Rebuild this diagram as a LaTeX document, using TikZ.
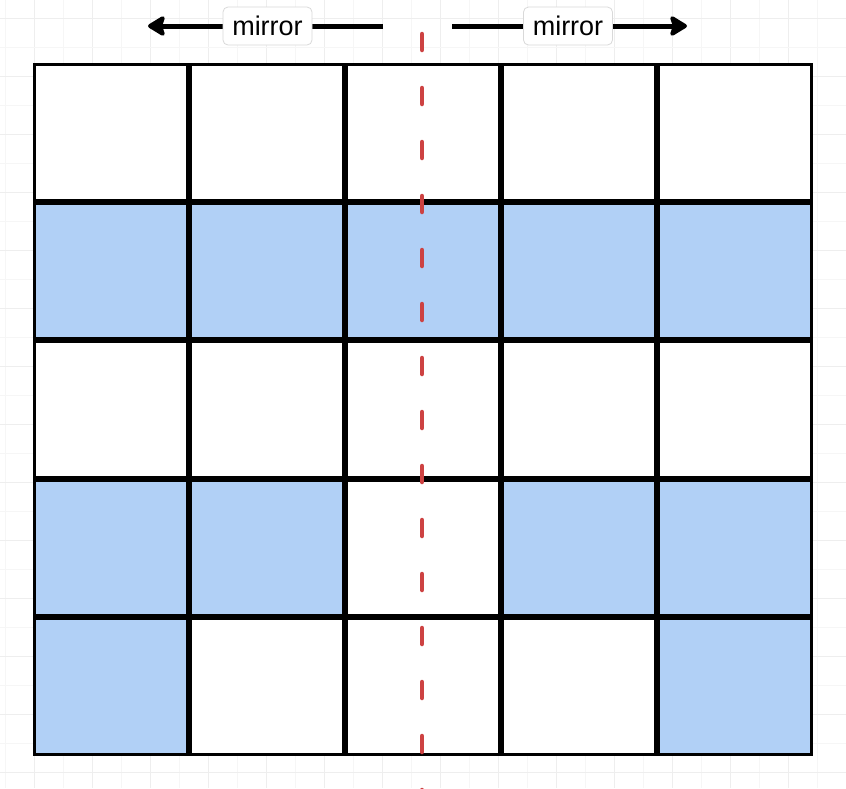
\documentclass[tikz,border=0pt]{standalone}
\usepackage{fontspec}
\setmainfont{Liberation Sans}
\usetikzlibrary{arrows.meta}
\definecolor{cellblue}{RGB}{177,208,246}
\definecolor{axisred}{RGB}{205,66,66}
\definecolor{bggrid}{RGB}{238,238,238}
\definecolor{bggridminor}{RGB}{246,246,246}
\begin{document}
\begin{tikzpicture}[x=1pt,y=-1pt,
  cellbox/.style={draw=black, line width=3.5pt, minimum width=153pt, minimum height=136pt, inner sep=0pt, fill=white},
  bluecell/.style={cellbox, fill=cellblue},
  mirrorlabel/.style={draw=black!15, line width=0.8pt, rounded corners=5pt, fill=white, minimum width=89pt, minimum height=38pt, inner sep=0pt, font=\fontsize{27}{30}\selectfont},
  mirrorarrow/.style={line width=5pt, -{Stealth[length=20pt,width=24pt,inset=4pt,round]}},
  axisline/.style={axisred, line width=4.5pt, line cap=round, dash pattern=on 16pt off 38pt}
]
\useasboundingbox (0,0) rectangle (846,788);
\fill[white] (0,0) rectangle (846,788);
% background grid
\foreach \gx in {5,63,...,846} {\draw[bggridminor, line width=0.8pt] (\gx,0) -- (\gx,788);}
\foreach \gx in {34,92,...,846} {\draw[bggrid, line width=0.8pt] (\gx,0) -- (\gx,788);}
\foreach \gy in {-11,47,...,788} {\draw[bggridminor, line width=0.8pt] (0,\gy) -- (846,\gy);}
\foreach \gy in {18,76,...,788} {\draw[bggrid, line width=0.8pt] (0,\gy) -- (846,\gy);}

% cells: row 1
\node[cellbox]  (c11) at (111,132.3) {};
\node[cellbox]  (c12) at (267,132.3) {};
\node[cellbox]  (c13) at (423,132.3) {};
\node[cellbox]  (c14) at (579,132.3) {};
\node[cellbox]  (c15) at (735,132.3) {};
% row 2
\node[bluecell] (c21) at (111,270.9) {};
\node[bluecell] (c22) at (267,270.9) {};
\node[bluecell] (c23) at (423,270.9) {};
\node[bluecell] (c24) at (579,270.9) {};
\node[bluecell] (c25) at (735,270.9) {};
% row 3
\node[cellbox]  (c31) at (111,409.5) {};
\node[cellbox]  (c32) at (267,409.5) {};
\node[cellbox]  (c33) at (423,409.5) {};
\node[cellbox]  (c34) at (579,409.5) {};
\node[cellbox]  (c35) at (735,409.5) {};
% row 4
\node[bluecell] (c41) at (111,548.1) {};
\node[bluecell] (c42) at (267,548.1) {};
\node[cellbox]  (c43) at (423,548.1) {};
\node[bluecell] (c44) at (579,548.1) {};
\node[bluecell] (c45) at (735,548.1) {};
% row 5
\node[bluecell] (c51) at (111,686.7) {};
\node[cellbox]  (c52) at (267,686.7) {};
\node[cellbox]  (c53) at (423,686.7) {};
\node[cellbox]  (c54) at (579,686.7) {};
\node[bluecell] (c55) at (735,686.7) {};

% mirror axis
\coordinate (axtop) at (422,34);
\coordinate (axbot) at (422,800);
\draw[axisline] (axtop) -- (axbot);

% arrows with labels
\coordinate (lstart) at (383,26);
\coordinate (lend) at (148,26);
\coordinate (rstart) at (452,26);
\coordinate (rend) at (687,26);
\draw[mirrorarrow] (lstart) -- (lend);
\draw[mirrorarrow] (rstart) -- (rend);
\node[mirrorlabel] (mleft) at (267.5,26) {mirror};
\node[mirrorlabel] (mright) at (568,26) {mirror};
\end{tikzpicture}
\end{document}
